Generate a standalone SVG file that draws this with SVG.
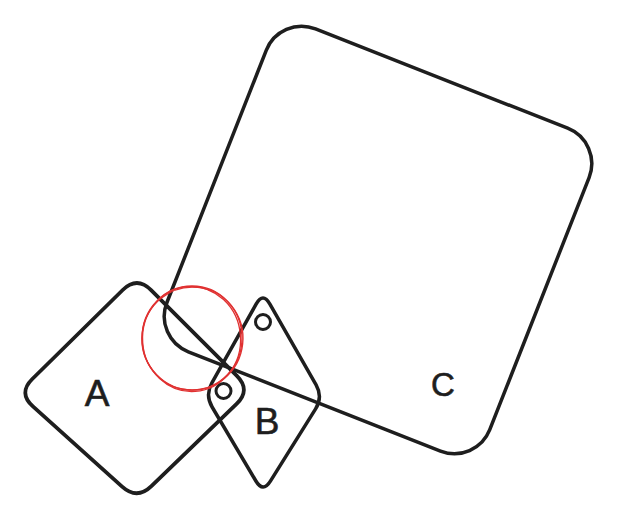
<svg xmlns="http://www.w3.org/2000/svg" width="627" height="522" viewBox="0 0 627 522">
<defs>
<style>
.shape{fill:none;stroke:#1e1e1e;stroke-linecap:round;stroke-linejoin:round}
.lbl{font-family:"Liberation Sans","DejaVu Sans",sans-serif;font-size:37px;fill:#1e1e1e;stroke:#1e1e1e;stroke-width:0.6;text-anchor:middle;dominant-baseline:central}
.red{fill:none;stroke:#e03131;stroke-width:1.3}
</style>
</defs>
<rect width="627" height="522" fill="#ffffff"/>
<g id="node-C">
<rect class="shape" x="-173.5" y="-173.5" width="347" height="347" rx="38" stroke-width="3.5" transform="translate(378,240) rotate(21.5)"/>
<text class="lbl" x="443" y="384" style="font-size:33px">C</text>
</g>
<g id="node-A">
<path class="shape" stroke-width="3.8" d="M151.1,290.1 L236.9,375.9 Q251,390 236.6,403.9 L151.4,486.1 Q137,500 122.1,486.6 L32.9,406.4 Q18,393 32.3,379 L122.7,290 Q137,276 151.1,290.1 Z"/>
<text class="lbl" x="97" y="393">A</text>
</g>
<g id="node-B">
<path class="shape" stroke-width="3.5" d="M269.9,304.2 L316.1,384.8 Q323,397 315.6,408.9 L270.4,481.1 Q263,493 255.9,481 L212.1,407 Q205,395 211.9,382.8 L256.1,304.2 Q263,292 269.9,304.2 Z"/>
<circle class="shape" cx="263" cy="322" r="7.5" stroke-width="3"/>
<circle class="shape" cx="223.5" cy="391" r="7.5" stroke-width="3"/>
<text class="lbl" x="267" y="421">B</text>
</g>
<g id="highlight">
<ellipse class="red" cx="192" cy="338" rx="50" ry="52"/>
<ellipse class="red" cx="191.5" cy="339" rx="49" ry="52.5" transform="rotate(-4 192 338)"/>
<ellipse class="red" cx="192.5" cy="338.5" rx="50.5" ry="51.5" transform="rotate(6 192 338)"/>
</g>
<g id="connectors"/>
</svg>
